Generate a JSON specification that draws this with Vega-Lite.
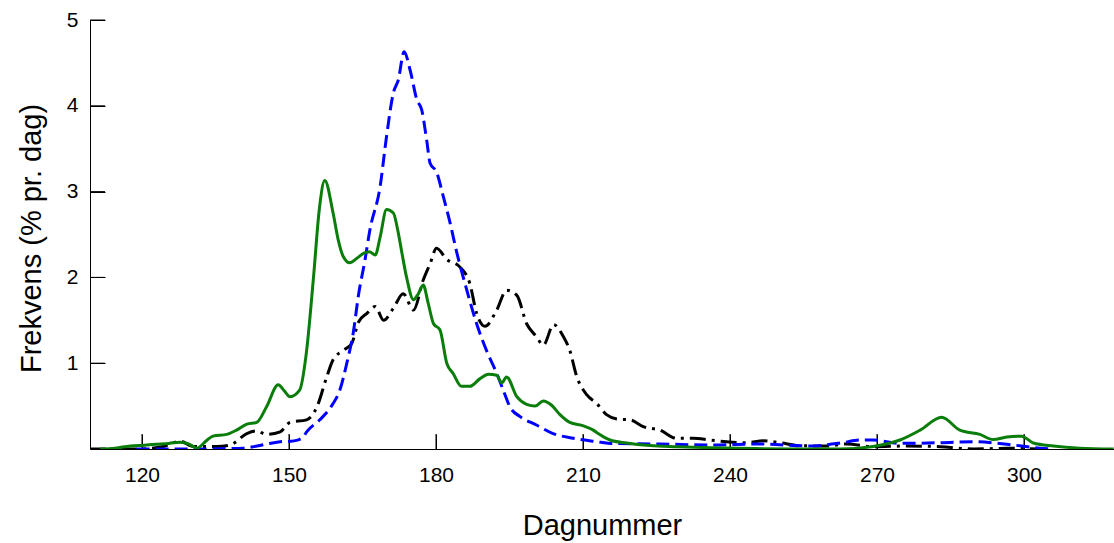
{
  "$schema": "https://vega.github.io/schema/vega-lite/v6.json",
  "autosize": "none",
  "width": 1024,
  "height": 429,
  "padding": {"left": 90, "top": 20, "right": 0, "bottom": 94},
  "background": "white",
  "config": {
    "view": {"stroke": null},
    "font": "Liberation Sans",
    "axis": {"grid": false, "domainColor": "black", "tickColor": "black", "labelColor": "black", "titleColor": "black", "labelFont": "Liberation Sans", "titleFont": "Liberation Sans", "titleFontWeight": "normal", "domainWidth": 1, "tickWidth": 1}
  },
  "datasets": {
    "A": [
      {"d":109.4,"v":0},{"d":119.6,"v":0},{"d":124.3,"v":0.03},{"d":127.8,"v":0.09},{"d":130.5,"v":0.03},{"d":135.2,"v":0.03},{"d":138,"v":0.047},{"d":141.4,"v":0.18},{"d":143.4,"v":0.21},{"d":145.4,"v":0.17},{"d":148.2,"v":0.2},{"d":150.2,"v":0.31},{"d":153.6,"v":0.34},{"d":155.7,"v":0.49},{"d":157.7,"v":0.84},{"d":159,"v":1.04},{"d":161.1,"v":1.15},{"d":162.8,"v":1.23},{"d":164.2,"v":1.48},{"d":165.9,"v":1.58},{"d":167.6,"v":1.66},{"d":169.3,"v":1.5},{"d":171.3,"v":1.64},{"d":173.3,"v":1.81},{"d":175.4,"v":1.62},{"d":177.4,"v":1.97},{"d":178.8,"v":2.16},{"d":180.1,"v":2.34},{"d":182.2,"v":2.21},{"d":184.9,"v":2.12},{"d":186.9,"v":1.93},{"d":188.3,"v":1.58},{"d":190,"v":1.43},{"d":192.4,"v":1.62},{"d":194.4,"v":1.85},{"d":196.5,"v":1.79},{"d":198.5,"v":1.46},{"d":200.5,"v":1.31},{"d":201.9,"v":1.21},{"d":204,"v":1.45},{"d":206,"v":1.31},{"d":207.3,"v":1.15},{"d":208.7,"v":0.85},{"d":210.8,"v":0.63},{"d":212.8,"v":0.53},{"d":214.8,"v":0.4},{"d":216.9,"v":0.35},{"d":219.6,"v":0.34},{"d":222.3,"v":0.26},{"d":225.7,"v":0.22},{"d":229.1,"v":0.125},{"d":232.5,"v":0.125},{"d":235.9,"v":0.105},{"d":239.3,"v":0.085},{"d":243.4,"v":0.073},{"d":246.8,"v":0.097},{"d":250.2,"v":0.073},{"d":254.3,"v":0.038},{"d":259.7,"v":0.035},{"d":263.8,"v":0.058},{"d":269.2,"v":0.027},{"d":276,"v":0.035},{"d":282.9,"v":0.027},{"d":289.7,"v":0.0},{"d":296.5,"v":0.008},{"d":303.3,"v":0}
    ],
    "B": [
      {"d":118.9,"v":0},{"d":125,"v":0},{"d":133.2,"v":0},{"d":137,"v":0.005},{"d":140.7,"v":0.01},{"d":143.5,"v":0.035},{"d":146.1,"v":0.065},{"d":148.2,"v":0.085},{"d":150.2,"v":0.09},{"d":151.5,"v":0.1},{"d":152.9,"v":0.14},{"d":153.6,"v":0.2},{"d":156.3,"v":0.34},{"d":159,"v":0.53},{"d":160.4,"v":0.69},{"d":161.8,"v":1.0},{"d":163.1,"v":1.35},{"d":164.2,"v":1.8},{"d":165.5,"v":2.2},{"d":166.5,"v":2.55},{"d":168.6,"v":3.06},{"d":169.9,"v":3.64},{"d":171.3,"v":4.15},{"d":172.3,"v":4.3},{"d":173.5,"v":4.63},{"d":174.7,"v":4.42},{"d":176.1,"v":4.07},{"d":177.1,"v":3.95},{"d":178.1,"v":3.6},{"d":178.8,"v":3.33},{"d":180.1,"v":3.23},{"d":181.5,"v":2.94},{"d":182.9,"v":2.63},{"d":184.2,"v":2.3},{"d":186.3,"v":1.85},{"d":188.3,"v":1.46},{"d":190.3,"v":1.15},{"d":192.4,"v":0.88},{"d":193.7,"v":0.69},{"d":195.1,"v":0.49},{"d":197.1,"v":0.38},{"d":200.5,"v":0.28},{"d":203.9,"v":0.18},{"d":208,"v":0.125},{"d":212.8,"v":0.085},{"d":215.5,"v":0.065},{"d":225.7,"v":0.058},{"d":236,"v":0.047},{"d":246.1,"v":0.058},{"d":256.3,"v":0.035},{"d":263.1,"v":0.075},{"d":266.5,"v":0.105},{"d":269.2,"v":0.105},{"d":274.7,"v":0.066},{"d":282.9,"v":0.073},{"d":289.7,"v":0.085},{"d":296.5,"v":0.055},{"d":303.3,"v":0.01},{"d":306,"v":0}
    ],
    "C": [
      {"d":111.4,"v":0},{"d":114.5,"v":0.01},{"d":117.6,"v":0.035},{"d":120.5,"v":0.045},{"d":123,"v":0.055},{"d":125.5,"v":0.065},{"d":127.8,"v":0.08},{"d":129.5,"v":0.06},{"d":131.2,"v":0.01},{"d":133.2,"v":0.1},{"d":134.5,"v":0.15},{"d":137.3,"v":0.17},{"d":139.3,"v":0.22},{"d":141.4,"v":0.29},{"d":143.4,"v":0.31},{"d":145.4,"v":0.49},{"d":147.8,"v":0.75},{"d":149,"v":0.68},{"d":150.2,"v":0.61},{"d":152.2,"v":0.69},{"d":153.5,"v":1.1},{"d":155,"v":2.0},{"d":156.2,"v":2.8},{"d":157.3,"v":3.13},{"d":159,"v":2.75},{"d":160,"v":2.45},{"d":161.1,"v":2.24},{"d":162.4,"v":2.17},{"d":163.8,"v":2.22},{"d":165.2,"v":2.28},{"d":166.4,"v":2.3},{"d":167.6,"v":2.26},{"d":168.6,"v":2.47},{"d":169.9,"v":2.79},{"d":171.3,"v":2.75},{"d":172.2,"v":2.55},{"d":173,"v":2.3},{"d":174,"v":2.0},{"d":175.4,"v":1.74},{"d":176.3,"v":1.8},{"d":177.4,"v":1.91},{"d":178.4,"v":1.7},{"d":179.5,"v":1.46},{"d":180.8,"v":1.39},{"d":182.2,"v":1.0},{"d":183.5,"v":0.88},{"d":185.2,"v":0.73},{"d":186.9,"v":0.73},{"d":189,"v":0.82},{"d":190.7,"v":0.87},{"d":192.4,"v":0.86},{"d":193.4,"v":0.77},{"d":194.4,"v":0.84},{"d":196.5,"v":0.61},{"d":198.5,"v":0.52},{"d":200.2,"v":0.5},{"d":201.9,"v":0.56},{"d":203.6,"v":0.51},{"d":205.3,"v":0.4},{"d":207.3,"v":0.31},{"d":210.1,"v":0.27},{"d":212.1,"v":0.22},{"d":213.1,"v":0.18},{"d":215.5,"v":0.105},{"d":218.9,"v":0.07},{"d":223.7,"v":0.04},{"d":229.1,"v":0.027},{"d":236,"v":0.015},{"d":245,"v":0.005},{"d":255,"v":0},{"d":262.4,"v":0},{"d":269.2,"v":0.03},{"d":274.7,"v":0.105},{"d":278.8,"v":0.22},{"d":283.2,"v":0.37},{"d":286.9,"v":0.22},{"d":291,"v":0.17},{"d":293.7,"v":0.11},{"d":296.5,"v":0.14},{"d":299.5,"v":0.15},{"d":301.9,"v":0.07},{"d":306,"v":0.035},{"d":311.4,"v":0.01},{"d":318.3,"v":0}
    ],
    "xt": [{"t":120},{"t":150},{"t":180},{"t":210},{"t":240},{"t":270},{"t":300}],
    "yt": [{"t":1},{"t":2},{"t":3},{"t":4},{"t":5}]
  },
  "layer": [
    {
      "data": {"name": "xt"},
      "mark": {"type": "rule", "color": "black", "strokeWidth": 1},
      "encoding": {
        "x": {"field": "t", "type": "quantitative", "scale": {"domain": [109.39, 318.37], "nice": false, "zero": false},
          "axis": {"values": [120, 150, 180, 210, 240, 270, 300], "title": "Dagnummer", "tickSize": -15, "labelPadding": 30, "labelFontSize": 21, "titleFontSize": 29, "titleBaseline": "alphabetic", "titleY": 85, "labelFlush": false}},
        "y": {"datum": 0, "type": "quantitative", "scale": {"domain": [0, 5], "nice": false},
          "axis": {"values": [1, 2, 3, 4, 5], "format": "d", "title": "Frekvens (% pr. dag)", "tickSize": -15, "labelPadding": 27, "labelFontSize": 21, "titleFontSize": 29, "titleBaseline": "alphabetic", "titleAngle": -90, "titleX": -50, "titleY": 218, "labelFlush": false}},
        "y2": {"datum": 0.175}
      }
    },
    {
      "data": {"name": "yt"},
      "mark": {"type": "rule", "color": "black", "strokeWidth": 1},
      "encoding": {
        "y": {"field": "t", "type": "quantitative"},
        "x": {"datum": 109.39, "type": "quantitative"},
        "x2": {"datum": 112.45}
      }
    },
    {
      "data": {"name": "A"},
      "mark": {"type": "line", "interpolate": "monotone", "color": "black", "strokeWidth": 3, "strokeDash": [16, 6, 3, 6], "clip": true},
      "encoding": {
        "x": {"field": "d", "type": "quantitative"},
        "y": {"field": "v", "type": "quantitative"}
      }
    },
    {
      "data": {"name": "B"},
      "mark": {"type": "line", "interpolate": "monotone", "color": "#0000ff", "strokeWidth": 3, "strokeDash": [13, 6], "clip": true},
      "encoding": {
        "x": {"field": "d", "type": "quantitative"},
        "y": {"field": "v", "type": "quantitative"}
      }
    },
    {
      "data": {"name": "C"},
      "mark": {"type": "line", "interpolate": "monotone", "color": "#0a7d0a", "strokeWidth": 3, "clip": true},
      "encoding": {
        "x": {"field": "d", "type": "quantitative"},
        "y": {"field": "v", "type": "quantitative"}
      }
    }
  ]
}
